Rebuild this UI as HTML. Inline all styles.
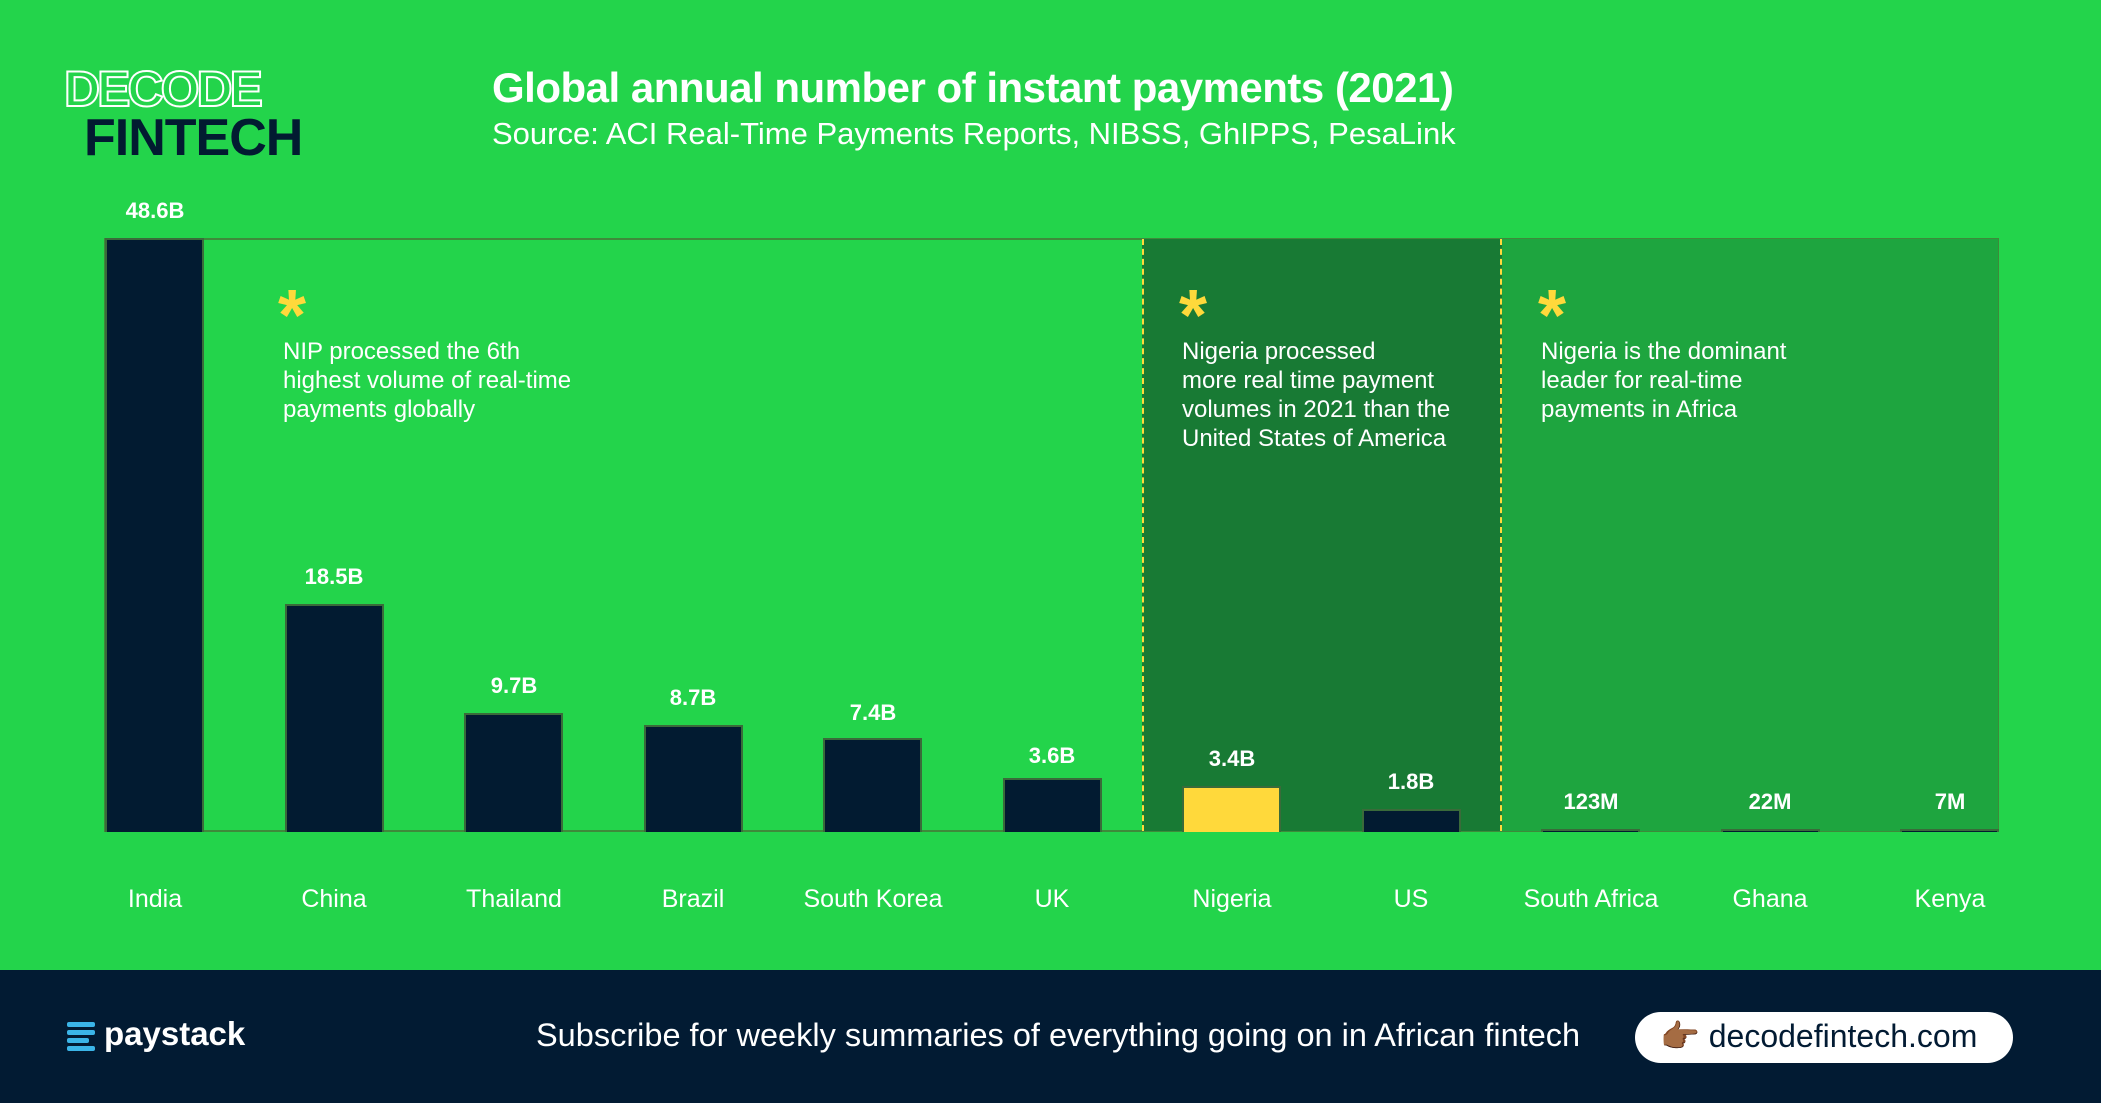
<!DOCTYPE html>
<html><head><meta charset="utf-8"><style>
body{margin:0;width:2101px;height:1103px;background:#23d44b;position:relative;overflow:hidden;font-family:"Liberation Sans",sans-serif;color:#fff}
.a{position:absolute}
.bar{position:absolute;background:#021b31;border:2px solid #3a6b3a;box-sizing:border-box;border-bottom:none}
.v{position:absolute;width:180px;text-align:center;font-weight:bold;font-size:22px}
.c{position:absolute;width:180px;text-align:center;font-size:25px;top:885px}
.note{position:absolute;font-size:24px;line-height:29px}
.ast{position:absolute;color:#ffd93b;font-size:72px;font-weight:bold;line-height:72px}
</style></head><body>
<div class="a" style="left:64px;top:60px;font-size:50px;font-weight:bold;color:transparent;-webkit-text-stroke:2px #fff;letter-spacing:-3px">DECODE</div>
<div class="a" style="left:84px;top:108px;font-size:52px;font-weight:bold;color:#021b31;letter-spacing:-1px">FINTECH</div>
<div class="a" style="left:492px;top:64px;font-size:42px;font-weight:bold;letter-spacing:-0.5px">Global annual number of instant payments (2021)</div>
<div class="a" style="left:492px;top:116px;font-size:31px">Source: ACI Real-Time Payments Reports, NIBSS, GhIPPS, PesaLink</div>

<div class="a" style="left:104px;top:238px;width:1895px;height:594px;border:2px solid #3e8a3a;box-sizing:border-box"></div>
<div class="a" style="left:1142px;top:239px;width:360px;height:592px;background:#187a34;border-left:2px dashed #ffd93b;border-right:2px dashed #ffd93b;box-sizing:border-box"></div>
<div class="a" style="left:1502px;top:239px;width:496px;height:592px;background:#1ea53f"></div>

<div class="bar" style="left:105px;top:238px;width:99px;height:594px"></div>
<div class="bar" style="left:285px;top:604px;width:99px;height:228px"></div>
<div class="bar" style="left:464px;top:713px;width:99px;height:119px"></div>
<div class="bar" style="left:644px;top:725px;width:99px;height:107px"></div>
<div class="bar" style="left:823px;top:738px;width:99px;height:94px"></div>
<div class="bar" style="left:1003px;top:778px;width:99px;height:54px"></div>
<div class="bar" style="left:1182px;top:786px;width:99px;height:46px;background:#ffd93b"></div>
<div class="bar" style="left:1362px;top:809px;width:99px;height:23px"></div>
<div class="bar" style="left:1541px;top:829px;width:99px;height:3px"></div>
<div class="bar" style="left:1721px;top:829px;width:99px;height:3px"></div>
<div class="bar" style="left:1900px;top:829px;width:99px;height:3px"></div>

<div class="v" style="left:65px;top:198px">48.6B</div>
<div class="v" style="left:244px;top:564px">18.5B</div>
<div class="v" style="left:424px;top:673px">9.7B</div>
<div class="v" style="left:603px;top:685px">8.7B</div>
<div class="v" style="left:783px;top:700px">7.4B</div>
<div class="v" style="left:962px;top:743px">3.6B</div>
<div class="v" style="left:1142px;top:746px">3.4B</div>
<div class="v" style="left:1321px;top:769px">1.8B</div>
<div class="v" style="left:1501px;top:789px">123M</div>
<div class="v" style="left:1680px;top:789px">22M</div>
<div class="v" style="left:1860px;top:789px">7M</div>

<div class="c" style="left:65px">India</div>
<div class="c" style="left:244px">China</div>
<div class="c" style="left:424px">Thailand</div>
<div class="c" style="left:603px">Brazil</div>
<div class="c" style="left:783px">South Korea</div>
<div class="c" style="left:962px">UK</div>
<div class="c" style="left:1142px">Nigeria</div>
<div class="c" style="left:1321px">US</div>
<div class="c" style="left:1501px">South Africa</div>
<div class="c" style="left:1680px">Ghana</div>
<div class="c" style="left:1860px">Kenya</div>

<div class="ast" style="left:278px;top:280px">*</div>
<div class="ast" style="left:1179px;top:280px">*</div>
<div class="ast" style="left:1538px;top:280px">*</div>
<div class="note" style="left:283px;top:337px">NIP processed the 6th<br>highest volume of real-time<br>payments globally</div>
<div class="note" style="left:1182px;top:337px">Nigeria processed<br>more real time payment<br>volumes in 2021 than the<br>United States of America</div>
<div class="note" style="left:1541px;top:337px">Nigeria is the dominant<br>leader for real-time<br>payments in Africa</div>

<div class="a" style="left:0;top:970px;width:2101px;height:133px;background:#021b33"></div>
<div class="a" style="left:67px;top:1022px;width:28px;height:28px">
<div class="a" style="left:0;top:0;width:28px;height:5px;background:#3bb5e8;border-radius:2px"></div>
<div class="a" style="left:0;top:8px;width:28px;height:5px;background:#3bb5e8;border-radius:2px"></div>
<div class="a" style="left:0;top:16px;width:22px;height:5px;background:#3bb5e8;border-radius:2px"></div>
<div class="a" style="left:0;top:24px;width:28px;height:5px;background:#3bb5e8;border-radius:2px"></div></div>
<div class="a" style="left:104px;top:1015px;font-size:33px;font-weight:bold">paystack</div>
<div class="a" style="left:536px;top:1017px;font-size:32.5px">Subscribe for weekly summaries of everything going on in African fintech</div>
<div class="a" style="left:1635px;top:1012px;width:378px;height:51px;background:#fff;border-radius:26px"></div>
<div class="a" style="left:1660px;top:1017px;font-size:32px;color:#021b33">👉🏾 decodefintech.com</div>
</body></html>
